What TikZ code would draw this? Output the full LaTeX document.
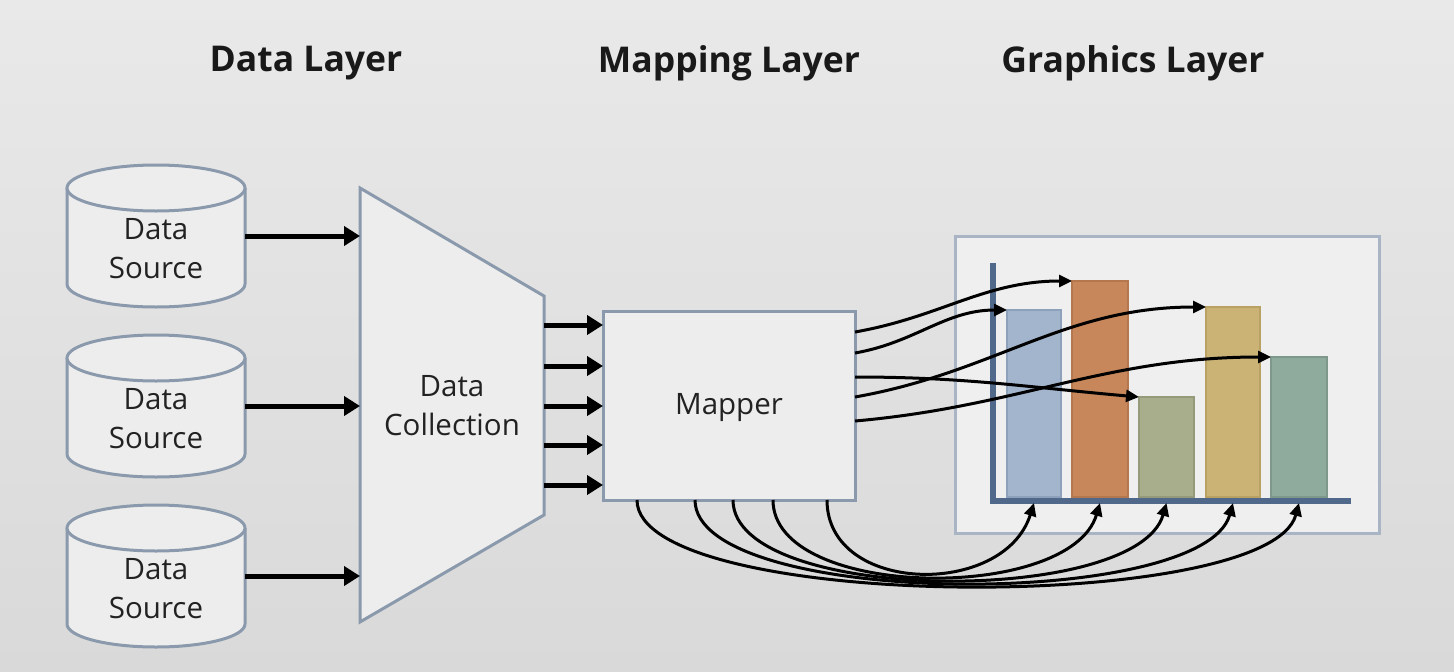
\documentclass[tikz,border=0pt]{standalone}
\usepackage{fontspec}
\setmainfont{Open Sans}
\usetikzlibrary{arrows.meta,calc}
\definecolor{bgtop}{HTML}{E9E9E9}
\definecolor{bgbot}{HTML}{D9D9D9}
\definecolor{shfill}{HTML}{EDEDED}
\definecolor{shdraw}{HTML}{8A99AC}
\definecolor{frdraw}{HTML}{A9B5C5}
\definecolor{frfill}{HTML}{EFEFEF}
\definecolor{axiscol}{HTML}{50698A}
\definecolor{barA}{HTML}{A3B5CC}\definecolor{barAd}{HTML}{8EA1BA}
\definecolor{barB}{HTML}{C8875A}\definecolor{barBd}{HTML}{B5774D}
\definecolor{barC}{HTML}{A8AD8C}\definecolor{barCd}{HTML}{959A7A}
\definecolor{barD}{HTML}{CAB374}\definecolor{barDd}{HTML}{B8A163}
\definecolor{barE}{HTML}{8FAB9E}\definecolor{barEd}{HTML}{7E998C}
\definecolor{txt}{HTML}{222222}
\newcommand\dbcyl[2]{%
  \fill[shfill] (#1-89,#2-48) -- (#1-89,#2+48) arc[start angle=180,end angle=360,x radius=89pt,y radius=23pt] -- (#1+89,#2-48) -- cycle;
  \draw[shdraw,line width=3pt] (#1-89,#2-48) -- (#1-89,#2+48) arc[start angle=180,end angle=360,x radius=89pt,y radius=23pt] -- (#1+89,#2-48);
  \filldraw[fill=shfill,draw=shdraw,line width=3pt] (#1,#2-48) ellipse[x radius=89pt,y radius=23pt];
}
\begin{document}
\begin{tikzpicture}[x=1pt,y=-1pt,
  title/.style={font=\fontsize{35.5}{42}\selectfont\bfseries,text=black!90},
  body/.style={font=\fontsize{29.5}{39}\selectfont,text=txt,align=center},
  ghost/.style={inner sep=0pt,outer sep=0pt},
  shapebox/.style={draw=shdraw,fill=shfill,line width=3pt,inner sep=0pt,outer sep=0pt},
  framebox/.style={draw=frdraw,fill=frfill,line width=3pt,inner sep=0pt},
  bar/.style={line width=2pt,inner sep=0pt,outer sep=0pt,anchor=north west},
  bigarr/.style={line width=5pt,-{Triangle[length=16pt,width=19pt]}},
  curv/.style={line width=3pt,-{Triangle[length=13pt,width=12pt]}},
  axisline/.style={axiscol,line width=6pt}]
\useasboundingbox (0,0) rectangle (1454,672);
\shade[top color=bgtop,bottom color=bgbot] (0,0) rectangle (1454,672);

% titles
\node[title] (t1) at (306,63) {Data Layer};
\node[title] (t2) at (729,63) {Mapping Layer};
\node[title] (t3) at (1133,63) {Graphics Layer};

% data sources
\dbcyl{156}{236}
\dbcyl{156}{406}
\dbcyl{156}{576}
\node[ghost,minimum width=178pt,minimum height=142pt] (ds1) at (156,236) {};
\node[ghost,minimum width=178pt,minimum height=142pt] (ds2) at (156,406) {};
\node[ghost,minimum width=178pt,minimum height=142pt] (ds3) at (156,576) {};
\node[body] (ds1t) at (156,249) {Data\\Source};
\node[body] (ds2t) at (156,419) {Data\\Source};
\node[body] (ds3t) at (156,589) {Data\\Source};

% data collection
\draw[draw=shdraw,fill=shfill,line width=3pt,line join=miter] (360,188) -- (544,296) -- (544,515) -- (360,622) -- cycle;
\node[ghost,minimum width=184pt,minimum height=434pt] (dc) at (452,405) {};
\node[body] (dct) at (452,406) {Data\\Collection};

\draw[bigarr] (ds1.east) -- (ds1.east -| dc.west);
\draw[bigarr] (ds2.east) -- (ds2.east -| dc.west);
\draw[bigarr] (ds3.east) -- (ds3.east -| dc.west);

% mapper
\node[shapebox,minimum width=252pt,minimum height=189pt] (map) at (729,405.5) {};
\node[body] (mapt) at (729,408) {Mapper};
\foreach \yy in {325,366,406,445,485}
  \draw[bigarr] ($(dc.east)+(0,\yy-405)$) -- ($(map.west)+(0,\yy-405.5)$);

% graphics frame
\node[framebox,minimum width=424pt,minimum height=297pt] (gfx) at (1167,384.5) {};

% bars
\node[bar,fill=barA,draw=barAd,minimum width=54pt,minimum height=187pt] (b1) at (1007,310) {};
\node[bar,fill=barB,draw=barBd,minimum width=56pt,minimum height=216pt] (b2) at (1072,281) {};
\node[bar,fill=barC,draw=barCd,minimum width=55pt,minimum height=100pt] (b3) at (1139,397) {};
\node[bar,fill=barD,draw=barDd,minimum width=54pt,minimum height=190pt] (b4) at (1206,307) {};
\node[bar,fill=barE,draw=barEd,minimum width=56pt,minimum height=140pt] (b5) at (1271,357) {};

% axes
\draw[axisline] (993,263) -- (993,501) -- (1351,501);

% top curves
\draw[curv] ($(map.east)+(0,-73.5)$) to[out=10,in=180] (b2.north west);
\draw[curv] ($(map.east)+(0,-52.5)$) to[out=10,in=180] (b1.north west);
\draw[curv] ($(map.east)+(0,-28.5)$) to[out=0,in=175] (b3.north west);
\draw[curv] ($(map.east)+(0,-8.5)$) to[out=10,in=180] (b4.north west);
\draw[curv] ($(map.east)+(0,15.5)$) to[out=5,in=180] (b5.north west);

% bottom curves
\draw[curv] ($(map.south)+(-92,0)$) .. controls +(0,112) and +(-30,112) .. ($(b5.south)+(0,6)$);
\draw[curv] ($(map.south)+(-34,0)$) .. controls +(0,108) and +(-30,108) .. ($(b4.south)+(0,6)$);
\draw[curv] ($(map.south)+(4,0)$) .. controls +(0,104) and +(-30,104) .. ($(b3.south)+(0,6)$);
\draw[curv] ($(map.south)+(44,0)$) .. controls +(0,100) and +(-30,100) .. ($(b2.south)+(0,6)$);
\draw[curv] ($(map.south)+(98,0)$) .. controls +(0,95) and +(-30,95) .. ($(b1.south)+(0,6)$);
\end{tikzpicture}
\end{document}
